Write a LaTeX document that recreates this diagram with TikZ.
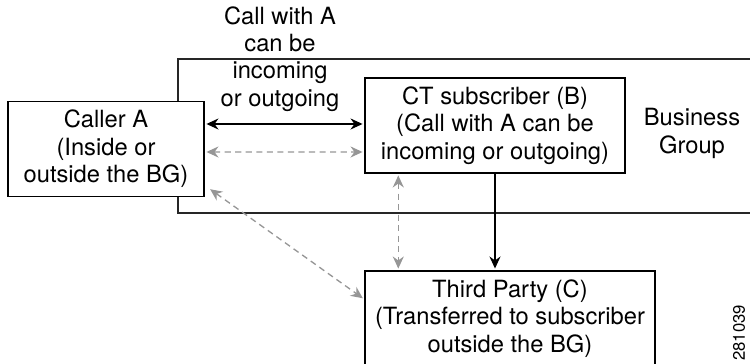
\documentclass[tikz,border=0pt]{standalone}
\usepackage{fontspec}
\setmainfont{TeX Gyre Heros}
\usetikzlibrary{arrows.meta}
\definecolor{linkgray}{RGB}{150,150,150}

\begin{document}
\begin{tikzpicture}[
    font=\fontsize{13.5}{15.6}\selectfont,
    box/.style={draw, fill=white, line width=0.8pt, align=center, minimum height=1.9cm, inner sep=0pt},
    txt/.style={align=center},
    both/.style={{Stealth[length=2.4mm,width=2.2mm]}-{Stealth[length=2.4mm,width=2.2mm]}, line width=0.75pt, shorten >=1pt, shorten <=1pt},
    linkdash/.style={both, linkgray, dash pattern=on 3.5pt off 2.5pt}
]
    \clip (0, 0) rectangle (15, 7.28);

    % business group frame, open to the right
    \draw[line width=0.8pt, black!85] (15, 6.10) -- (3.56, 6.10) -- (3.56, 3.02) -- (15, 3.02);

    \node[box, minimum width=3.92cm] (caller) at (2.12, 4.30) {Caller A\\(Inside or\\outside the BG)};
    \node[box, minimum width=5.2cm] (ct) at (9.9, 4.77) {CT subscriber (B)\\(Call with A can be\\incoming or outgoing)};
    \node[box, minimum width=5.8cm] (third) at (10.2, 0.91) {Third Party (C)\\(Transferred to subscriber\\outside the BG)};

    \node[txt] (bg) at (13.84, 4.61) {Business\\Group};
    \node[txt] (call) at (5.6, 6.10) {Call with A\\can be\\incoming\\or outgoing};
    \node[rotate=90, font=\fontsize{9.5}{11}\selectfont] (num) at (14.78, 0.62) {281039};

    \draw[both, black] ([yshift=0.50cm]caller.east) -- ([yshift=0.03cm]ct.west);
    \draw[linkdash] ([yshift=-0.06cm]caller.east) -- ([yshift=-0.53cm]ct.west);

    \coordinate (vtop) at ([xshift=0.68cm]ct.south west);
    \draw[linkdash] (vtop) -- (vtop |- third.north);

    \coordinate (dstart) at ([shift={(0.08, 0.18)}]caller.south east);
    \draw[linkdash] (dstart) -- ([yshift=-0.58cm]third.north west);

    \draw[-{Stealth[length=2.4mm,width=2.2mm]}, line width=0.75pt, shorten >=1pt] (ct.south) -- (ct.south |- third.north);
\end{tikzpicture}
\end{document}
